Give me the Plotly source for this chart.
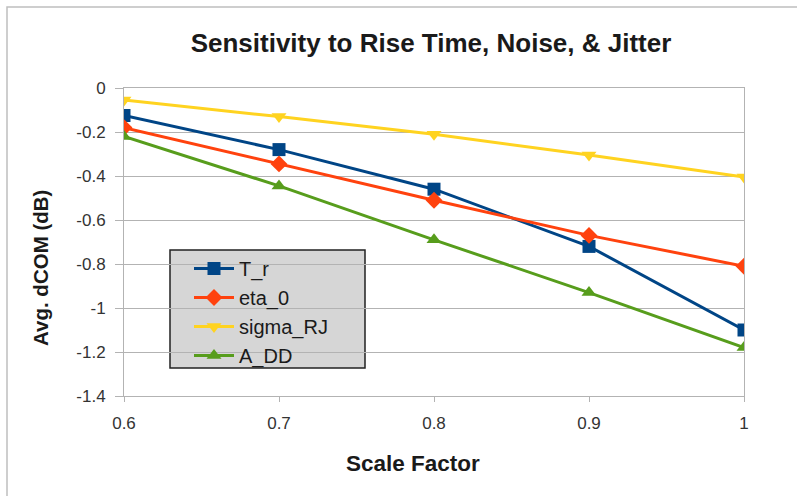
import plotly.graph_objects as go

scale = [0.6, 0.7, 0.8, 0.9, 1.0]
t_r = [-0.125, -0.28, -0.46, -0.72, -1.10]
eta_0 = [-0.18, -0.345, -0.51, -0.67, -0.81]
sigma_rj = [-0.055, -0.13, -0.21, -0.305, -0.405]
a_dd = [-0.22, -0.445, -0.69, -0.93, -1.18]

series = [
    ("T_r", t_r, "#004586", "square"),
    ("eta_0", eta_0, "#ff420e", "diamond"),
    ("sigma_RJ", sigma_rj, "#ffd320", "triangle-down"),
    ("A_DD", a_dd, "#579d1c", "triangle-up"),
]

W, H = 797, 496
L, R, T, B = 124, 744, 88, 396

def px(x):
    return (x - L) / (R - L)

def py(y):
    return (B - y) / (B - T)

fig = go.Figure()
for name, vals, color, sym in series:
    fig.add_trace(go.Scatter(
        x=scale, y=vals, name=name, mode="lines+markers",
        line=dict(color=color, width=3),
        marker=dict(symbol=sym, size=13, color=color),
    ))

FONT = "Liberation Sans, Arial, sans-serif"
fig.update_layout(
    width=W, height=H,
    margin=dict(l=L, r=W - R, t=T, b=H - B),
    paper_bgcolor="white", plot_bgcolor="white",
    font=dict(family=FONT, color="#333333", size=17),
    title=dict(text="<b>Sensitivity to Rise Time, Noise, & Jitter</b>",
               x=px(431), xref="paper", xanchor="center",
               y=1 - 43 / H, yanchor="middle",
               font=dict(size=26, color="#1a1a1a", family=FONT)),
    xaxis=dict(range=[0.6, 1.0], tickvals=scale, ticktext=["0.6", "0.7", "0.8", "0.9", "1"],
               showgrid=False, zeroline=False, showline=True, linecolor="#b3b3b3",
               linewidth=1, mirror=True, ticks="outside", ticklen=5, tickcolor="#b3b3b3",
               ticklabelstandoff=7,
               tickfont=dict(size=17, color="#333333")),
    yaxis=dict(range=[-1.4, 0], tickvals=[0, -0.2, -0.4, -0.6, -0.8, -1, -1.2, -1.4],
               ticktext=["0", "-0.2", "-0.4", "-0.6", "-0.8", "-1", "-1.2", "-1.4"],
               showgrid=True, gridcolor="#b3b3b3", gridwidth=1, zeroline=False,
               showline=True, linecolor="#b3b3b3", linewidth=1, mirror=True,
               ticks="outside", ticklen=8, tickcolor="#b3b3b3",
               ticklabelstandoff=6,
               tickfont=dict(size=17, color="#333333")),
    showlegend=True,
    legend=dict(x=px(189), y=py(249), xanchor="left", yanchor="top",
                bgcolor="rgba(0,0,0,0)", borderwidth=0,
                font=dict(size=20, color="#1a1a1a", family=FONT),
                tracegroupgap=0, itemwidth=40),
)

# legend box
fig.add_shape(type="rect", xref="paper", yref="paper",
              x0=px(170), x1=px(365), y0=py(368), y1=py(250),
              fillcolor="#d6d6d6", line=dict(color="#222222", width=1.5), layer="below")
# outer border
fig.add_shape(type="rect", xref="paper", yref="paper",
              x0=px(7), x1=px(805), y0=py(505), y1=py(7),
              fillcolor="rgba(0,0,0,0)", line=dict(color="#bfbfbf", width=1.5), layer="below")

fig.add_annotation(text="<b>Avg. dCOM (dB)</b>", xref="paper", yref="paper",
                   x=px(40), y=py(268), textangle=-90, showarrow=False,
                   font=dict(size=20.5, color="#1a1a1a", family=FONT),
                   xanchor="center", yanchor="middle")
fig.add_annotation(text="<b>Scale Factor</b>", xref="paper", yref="paper",
                   x=px(413), y=py(463), showarrow=False,
                   font=dict(size=22.5, color="#1a1a1a", family=FONT),
                   xanchor="center", yanchor="middle")

fig.write_html("out.html")
